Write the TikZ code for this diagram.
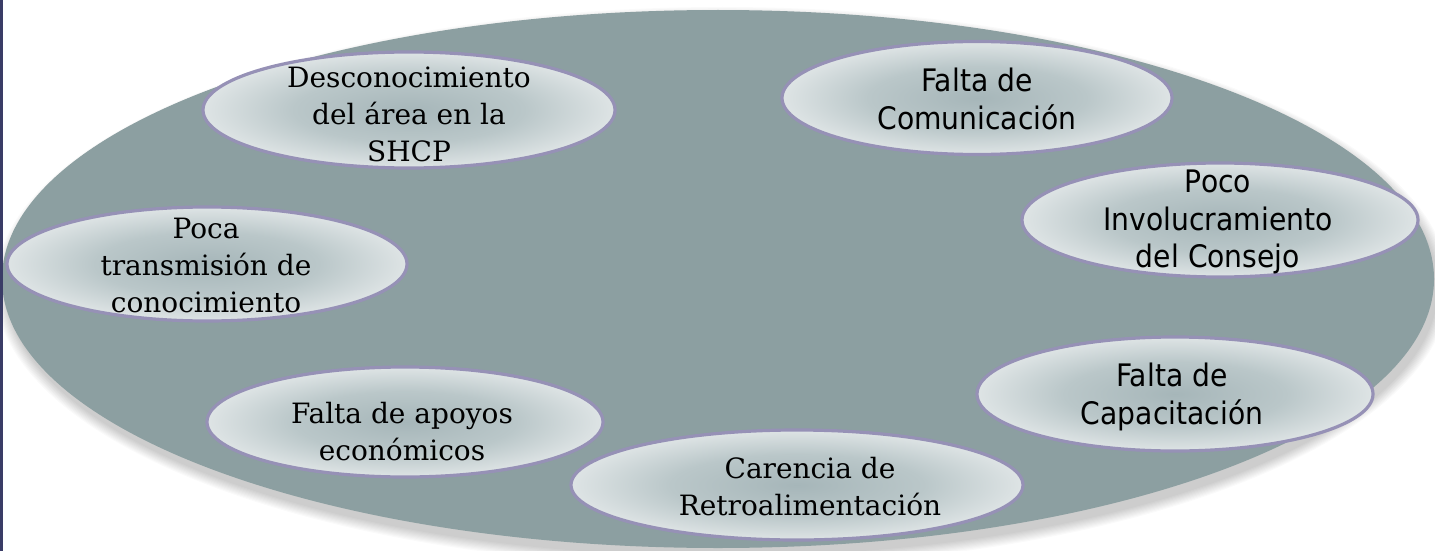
\documentclass[tikz,border=0pt]{standalone}
\usepackage{fontspec}
\usetikzlibrary{shapes.geometric}
\newfontfamily\serf{DejaVu Serif}
\newfontfamily\sanf[FakeStretch=0.91]{DejaVu Sans}
\definecolor{bgfill}{RGB}{140,159,161}
\definecolor{edgec}{RGB}{150,145,182}
\definecolor{blobin}{RGB}{166,182,185}
\definecolor{blobmid}{RGB}{186,199,201}
\definecolor{blobout}{RGB}{222,228,229}
\definecolor{stripc}{RGB}{58,60,102}
\pgfdeclareradialshading{blobshade}{\pgfpoint{0bp}{0bp}}{color(0bp)=(blobin); color(14bp)=(blobmid); color(25bp)=(blobout); color(50bp)=(blobout)}
\tikzset{
  big/.style={ellipse, inner sep=0pt, fill=bgfill},
  blob/.style={ellipse, inner sep=0pt, draw=edgec, line width=3.2pt, shading=blobshade},
  sertxt/.style={align=center, inner sep=0pt, font=\serf\fontsize{28}{37}\selectfont},
  santxt/.style={align=center, inner sep=0pt, font=\sanf\fontsize{31}{37.5}\selectfont},
}
\begin{document}
\begin{tikzpicture}[x=1pt,y=-1pt]
\useasboundingbox (0,0) rectangle (1435,551);
\fill[white] (0,0) rectangle (1435,551);
% soft shadow of the big ellipse
\foreach \i in {1,...,10}{
  \fill[black, opacity=0.018] (722,287) ellipse ({715+1.2*\i} and {268+1.2*\i});
}
\node[big, minimum width=1432pt, minimum height=538pt] (bg) at (718,279) {};
% small ellipses
\node[blob, minimum width=412pt, minimum height=116pt] (e1) at (409,110) {};
\node[blob, minimum width=390pt, minimum height=113pt] (e2) at (977,98) {};
\node[blob, minimum width=396pt, minimum height=114pt] (e3) at (1220,220) {};
\node[blob, minimum width=400pt, minimum height=114pt] (e4) at (207,264) {};
\node[blob, minimum width=396pt, minimum height=114pt] (e5) at (1175,394) {};
\node[blob, minimum width=396pt, minimum height=110pt] (e6) at (405,422) {};
\node[blob, minimum width=452pt, minimum height=110pt] (e7) at (797,485) {};
% texts
\node[sertxt] (t1) at (409,114) {Desconocimiento\\del área en la\\SHCP};
\node[santxt] (t2) at (977,99) {Falta de\\Comunicación};
\node[santxt] (t3) at (1218,222) {Poco\\Involucramiento\\del Consejo};
\node[sertxt] (t4) at (206,265) {Poca\\transmisión de\\conocimiento};
\node[santxt] (t5) at (1172,397) {Falta de\\Capacitación};
\node[sertxt] (t6) at (402,432) {Falta de apoyos\\económicos};
\node[sertxt] (t7) at (810,487) {Carencia de\\Retroalimentación};
% left strip
\fill[stripc] (0,0) rectangle (3,551);
\end{tikzpicture}
\end{document}
